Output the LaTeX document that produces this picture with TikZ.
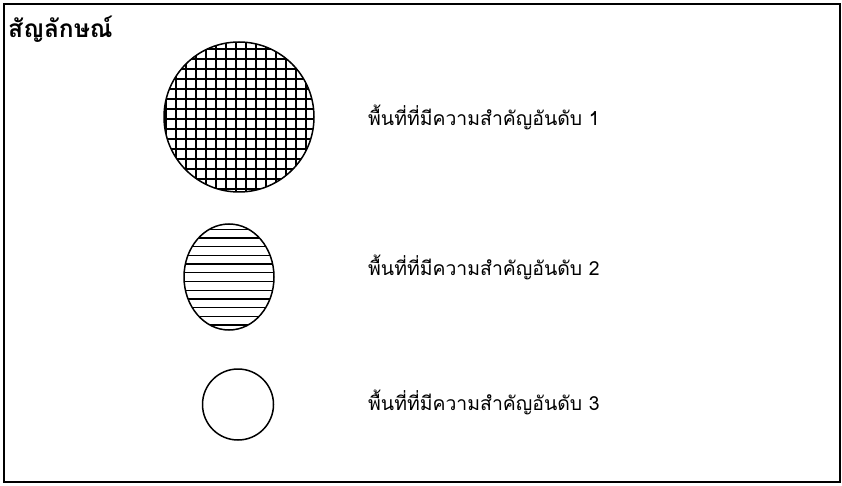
\documentclass[tikz,border=0pt]{standalone}
\usepackage{fontspec}
\usetikzlibrary{shapes.geometric}
\newfontfamily\thaifont[Script=Thai]{Loma}
\begin{document}
\begin{tikzpicture}[x=1pt,y=-1pt,
  frame/.style={draw, line width=1.8pt},
  sym/.style={draw, line width=1.5pt},
  hatch/.style={line width=1.3pt},
  lbl/.style={anchor=base west, inner sep=0pt, font=\thaifont\fontsize{19.4}{22}\selectfont},
  ttl/.style={anchor=base west, inner sep=0pt, font=\thaifont\bfseries\fontsize{24.5}{28}\selectfont}]
\useasboundingbox (0,0) rectangle (842,486);
\draw[frame] (4,4) rectangle (840,482);
\node[ttl] (title) at (8,38) {สัญลักษณ์};
% big crosshatched circle
\begin{scope}
\clip (239,117) circle (75);
\foreach \i in {-8,...,8} {
  \draw[hatch] (239+\i*10-3,40) -- (239+\i*10-3,195);
  \draw[hatch] (160,117+\i*10+2) -- (320,117+\i*10+2);
}
\end{scope}
\node[sym, circle, minimum size=150pt, inner sep=0pt] (c1) at (239,117) {};
% medium hatched circle
\begin{scope}
\clip (229,277) ellipse (45 and 53);
\foreach \i in {0,...,11} {
  \draw[hatch] (180,229.3+\i*8.7) -- (285,229.3+\i*8.7);
}
\end{scope}
\node[sym, ellipse, minimum width=90pt, minimum height=106pt, inner sep=0pt] (c2) at (229,277) {};
% small empty circle
\node[sym, circle, minimum size=71pt, inner sep=0pt] (c3) at (238,404.5) {};
\node[lbl] (l1) at (368,126) {พื้นที่ที่มีความสำคัญอันดับ 1};
\node[lbl] (l2) at (368,275.5) {พื้นที่ที่มีความสำคัญอันดับ 2};
\node[lbl] (l3) at (368,410.5) {พื้นที่ที่มีความสำคัญอันดับ 3};
\end{tikzpicture}
\end{document}
